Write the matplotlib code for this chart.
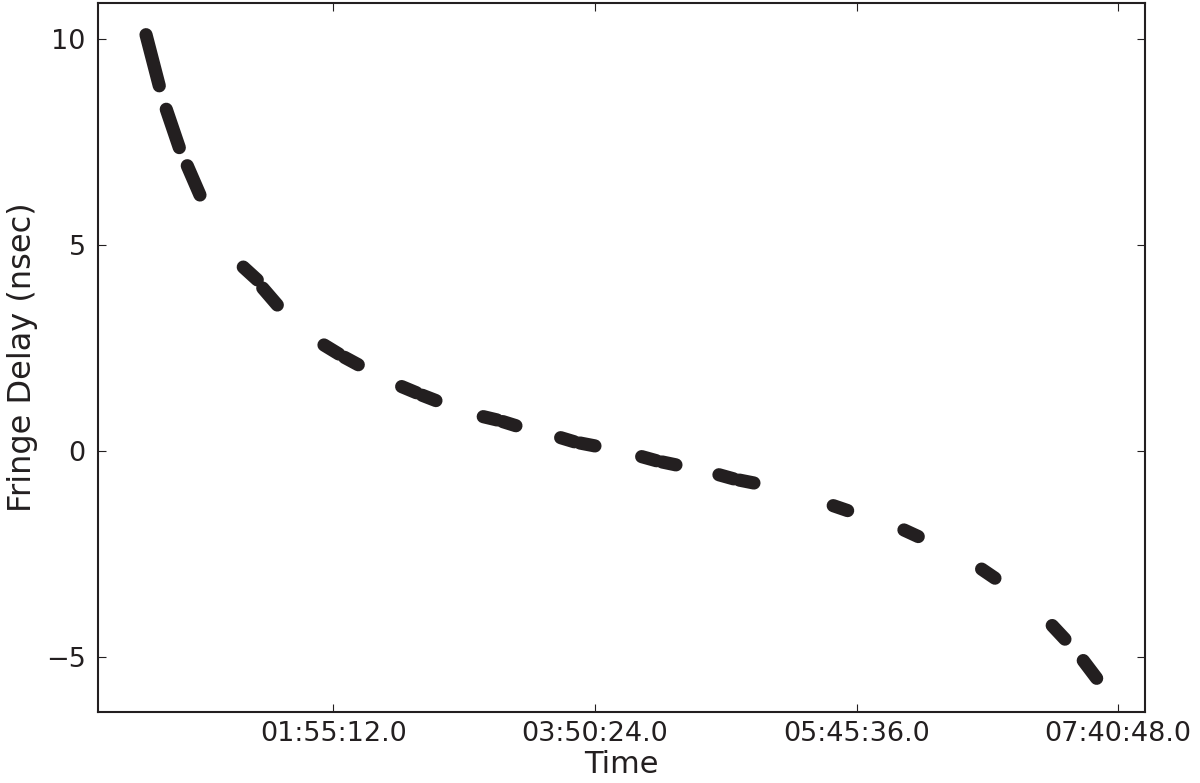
import numpy as np
from matplotlib import pyplot as plt, ticker

# Scan start/end times (seconds from 00:00:00) and fringe delays (nsec) for each scan
scan_start_time = [1966, 2501, 3056,
                   4535, 5050, 6667, 7210, 8719, 9260,
                   10874, 11390, 12919, 13430, 15059, 15600, 17100, 17640,
                   20119, 21987, 24039, 25904, 26724]
scan_end_time = [2316, 2845, 3391,
                 4905, 5434, 7060, 7573, 9110, 9625,
                 11240, 11738, 13280, 13825, 15450, 15965, 17490, 18025,
                 20500, 22365, 24391, 26240, 27078]
scan_start_delay = [10.10, 8.29, 6.92,
                    4.46, 3.95, 2.57, 2.27, 1.56, 1.35,
                    0.83, 0.71, 0.32, 0.19, -0.14, -0.27, -0.58, -0.71,
                    -1.33, -1.92, -2.87, -4.24, -5.09]
scan_end_delay = [8.86, 7.36, 6.21,
                  4.15, 3.54, 2.35, 2.09, 1.41, 1.22,
                  0.75, 0.61, 0.22, 0.12, -0.24, -0.34, -0.68, -0.78,
                  -1.45, -2.08, -3.09, -4.57, -5.52]

ink = '#231f20'


def format_time(seconds, pos=None):
    h = int(seconds // 3600)
    m = int((seconds % 3600) // 60)
    s = seconds % 60
    return '%02d:%02d:%04.1f' % (h, m, s)


plt.rcParams['font.family'] = 'DejaVu Sans'

fig = plt.figure(figsize=(12, 7.83), dpi=100)
ax = fig.add_axes([0.0819, 0.0911, 0.8723, 0.9051])

for t0, t1, d0, d1 in zip(scan_start_time, scan_end_time, scan_start_delay, scan_end_delay):
    ax.plot([t0, t1], [d0, d1], color=ink, linewidth=9.5, solid_capstyle='round')

ax.set_xlim(705, 28356)
ax.set_ylim(-6.33, 10.87)
ax.xaxis.set_major_locator(ticker.MultipleLocator(6912))
ax.xaxis.set_major_formatter(ticker.FuncFormatter(format_time))
ax.yaxis.set_major_locator(ticker.MultipleLocator(5))

ax.tick_params(direction='in', top=True, right=True, length=5.8, width=0.8,
               colors=ink, labelsize=19.5)
ax.tick_params(axis='x', pad=7)
ax.tick_params(axis='y', pad=9)
for spine in ax.spines.values():
    spine.set_linewidth(1.5)
    spine.set_color(ink)

ax.set_xlabel('Time', fontsize=22, color=ink, labelpad=2)
ax.set_ylabel('Fringe Delay (nsec)', fontsize=23, color=ink, labelpad=6)

plt.savefig('out.png', dpi=100)
